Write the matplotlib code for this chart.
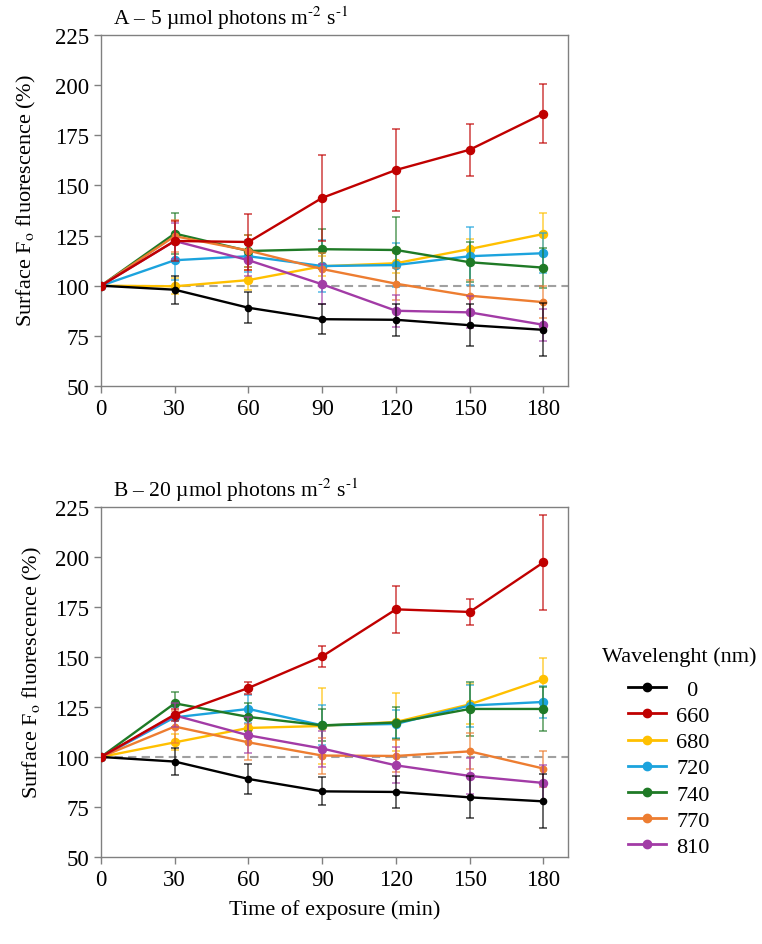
import matplotlib
matplotlib.use("Agg")
import matplotlib.pyplot as plt
from matplotlib.lines import Line2D

plt.rcParams['font.family'] = ['Liberation Serif', 'DejaVu Serif']
plt.rcParams['mathtext.fontset'] = 'stix'

times = [0, 30, 60, 90, 120, 150, 180]
wavelengths = ['0', '660', '680', '720', '740', '770', '810']
colors = ['#000000', '#C00000', '#FFC000', '#1CA3DD', '#1F7A26', '#ED7D31', '#A23BA6']

# Panel A (5 umol photons m-2 s-1)
a_0   = [100, 98.0, 89.0, 83.3, 83.0, 80.3, 78.0]
a_660 = [100, 122.3, 121.8, 143.8, 157.7, 167.8, 185.8]
a_680 = [100, 99.7, 102.8, 109.7, 111.2, 118.3, 125.8]
a_720 = [100, 112.7, 114.7, 109.8, 110.3, 114.7, 116.2]
a_740 = [100, 126.0, 117.3, 118.2, 117.8, 111.7, 109.0]
a_770 = [100, 124.7, 117.5, 108.3, 101.0, 95.0, 91.8]
a_810 = [100, 122.3, 112.7, 100.7, 87.5, 86.7, 80.5]

a_err_0   = [0, 7.0, 7.8, 7.5, 8.0, 10.5, 13.3]
a_err_660 = [0, 10.0, 14.0, 21.5, 20.5, 13.0, 14.7]
a_err_680 = [0, 4.0, 5.0, 5.0, 5.0, 5.0, 10.5]
a_err_720 = [0, 10.0, 8.0, 13.0, 11.0, 14.6, 10.0]
a_err_740 = [0, 10.0, 8.0, 10.0, 16.5, 10.0, 10.0]
a_err_770 = [0, 8.0, 8.0, 8.0, 8.0, 8.0, 8.0]
a_err_810 = [0, 9.0, 8.0, 10.0, 8.0, 8.0, 8.0]

# Panel B (20 umol photons m-2 s-1)
b_0   = [100, 97.7, 89.0, 82.8, 82.5, 79.8, 77.8]
b_660 = [100, 121.2, 134.5, 150.3, 173.8, 172.5, 197.3]
b_680 = [100, 107.3, 114.5, 115.5, 117.5, 126.3, 138.8]
b_720 = [100, 119.8, 124.0, 115.8, 116.5, 125.7, 127.5]
b_740 = [100, 126.8, 120.0, 115.8, 117.2, 124.0, 124.0]
b_770 = [100, 115.2, 107.3, 100.7, 100.5, 102.8, 94.2]
b_810 = [100, 120.8, 110.8, 104.2, 95.8, 90.5, 87.0]

b_err_0   = [0, 6.7, 7.7, 7.0, 7.8, 10.5, 13.5]
b_err_660 = [0, 3.0, 3.2, 5.2, 11.7, 6.3, 23.7]
b_err_680 = [0, 4.0, 5.0, 19.0, 14.7, 10.0, 10.8]
b_err_720 = [0, 5.0, 7.0, 10.0, 7.0, 10.5, 8.0]
b_err_740 = [0, 5.7, 7.0, 8.0, 8.0, 13.7, 11.0]
b_err_770 = [0, 8.0, 9.0, 9.0, 8.0, 9.0, 9.0]
b_err_810 = [0, 6.0, 9.0, 9.0, 9.0, 9.0, 9.0]

panels = [
    ("A \u2013 5 \u00b5mol photons m$^{\\text{-}2}$ s$^{\\text{-}1}$",
     [a_0, a_660, a_680, a_720, a_740, a_770, a_810],
     [a_err_0, a_err_660, a_err_680, a_err_720, a_err_740, a_err_770, a_err_810]),
    ("B \u2013 20 \u00b5mol photons m$^{\\text{-}2}$ s$^{\\text{-}1}$",
     [b_0, b_660, b_680, b_720, b_740, b_770, b_810],
     [b_err_0, b_err_660, b_err_680, b_err_720, b_err_740, b_err_770, b_err_810]),
]

fig = plt.figure(figsize=(7.62, 9.45), dpi=100)
ax_a = fig.add_axes([0.1325, 0.5905, 0.613, 0.3714])
ax_b = fig.add_axes([0.1325, 0.0921, 0.613, 0.3704])
label_x = [-0.135, -0.123]

zorders = [9, 10, 4, 5, 6, 7, 8]
msizes = [4.5, 5.8, 5.8, 5.8, 5.8, 4.6, 5.8]
for k, (ax, (title, series, errs)) in enumerate(zip([ax_a, ax_b], panels)):
    ax.axhline(100, color='#A0A0A0', lw=1.5, ls=(0, (4, 2.5)), zorder=1)
    for i, (vals, err) in enumerate(zip(series, errs)):
        ax.errorbar(times, vals, yerr=err, fmt='none', ecolor=colors[i],
                    elinewidth=1.1, capsize=3, capthick=1.1, alpha=0.75,
                    zorder=zorders[i] - 0.5)
        ax.plot(times, vals, color=colors[i], lw=1.7, marker='o',
                ms=msizes[i], zorder=zorders[i])
    ax.set_xlim(0, 190)
    ax.set_ylim(50, 225)
    ax.set_xticks(times)
    ax.set_yticks(range(50, 226, 25))
    for s in ax.spines.values():
        s.set_color('#808080')
        s.set_linewidth(1.0)
    ax.tick_params(axis='both', labelsize=16.5, color='#808080', length=5, width=1.0)
    ax.set_ylabel("Surface F$_\\mathrm{o}$ fluorescence (%)", fontsize=16)
    ax.yaxis.set_label_coords(label_x[k], 0.53)
    ax.text(0.025, 1.01, title, transform=ax.transAxes, fontsize=15.5,
            ha='left', va='bottom')

ax_b.set_xlabel("Time of exposure (min)", fontsize=16, labelpad=7)

handles = [Line2D([0], [0], color=c, lw=2, marker='o', ms=6) for c in colors]
labels = ['\u20070'] + wavelengths[1:]
fig.text(602 / 762, 1 - 657 / 945, "Wavelenght (nm)", fontsize=16,
         ha='left', va='center')
leg = fig.legend(handles, labels, loc='upper left',
                 bbox_to_anchor=(612 / 762, 1 - 665 / 945), frameon=False,
                 fontsize=16, handlelength=1.75,
                 labelspacing=0.25, handletextpad=0.45, borderpad=0.2)

fig.savefig("out.png", dpi=100)
